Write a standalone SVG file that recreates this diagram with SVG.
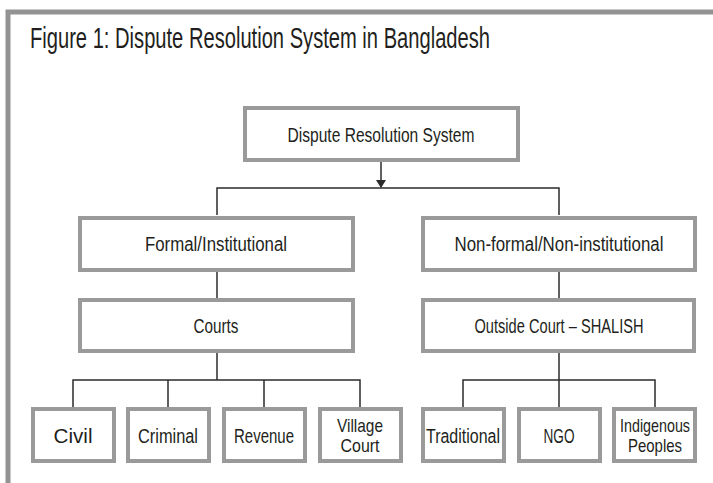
<svg xmlns="http://www.w3.org/2000/svg" width="713" height="483" viewBox="0 0 713 483">
<style>
.frame{fill:none;stroke:#939393;stroke-width:5}
.box{fill:#fff;stroke:#9a9a9a;stroke-width:4}
.t{font-family:"Liberation Sans",Arial,sans-serif;font-size:20px;fill:#231f20;text-anchor:middle}
.s{font-size:19px}
.title{font-family:"Liberation Sans",Arial,sans-serif;font-size:29px;fill:#231f20}
.c{fill:none;stroke:#2b2b2b;stroke-width:1.5}
</style>
<defs>
<marker id="arr" markerWidth="8" markerHeight="10" refX="7" refY="5" orient="auto" markerUnits="userSpaceOnUse">
<path d="M0,0 L8,5 L0,10 Z" fill="#2b2b2b"/>
</marker>
</defs>
<rect width="713" height="483" fill="#fff"/>
<path class="frame" d="M8,483 L8,12 L713,12"/>
<text class="title" x="30" y="48" textLength="460" lengthAdjust="spacingAndGlyphs">Figure 1: Dispute Resolution System in Bangladesh</text>
<g id="connectors">
<path class="c" d="M381,162 L381,187" marker-end="url(#arr)"/>
<path class="c" d="M217,215 L217,188 L559,188 L559,215"/>
<path class="c" d="M217,272 L217,298"/>
<path class="c" d="M559,272 L559,298"/>
<path class="c" d="M217,353 L217,380"/>
<path class="c" d="M73,407 L73,380 L360,380 L360,407 M168,380 L168,407 M264,380 L264,407"/>
<path class="c" d="M559,353 L559,407"/>
<path class="c" d="M463,407 L463,380 L655,380 L655,407"/>
</g>
<g id="root"><rect class="box" x="245" y="108" width="273" height="52"/><text class="t" x="381" y="142" textLength="187" lengthAdjust="spacingAndGlyphs">Dispute Resolution System</text></g>
<g id="formal"><rect class="box" x="80" y="218" width="273" height="52"/><text class="t" x="216" y="251" textLength="142" lengthAdjust="spacingAndGlyphs">Formal/Institutional</text></g>
<g id="nonformal"><rect class="box" x="423" y="218" width="272" height="52"/><text class="t" x="559" y="251" textLength="209" lengthAdjust="spacingAndGlyphs">Non-formal/Non-institutional</text></g>
<g id="courts"><rect class="box" x="80" y="300" width="273" height="51"/><text class="t" x="216" y="333" textLength="45" lengthAdjust="spacingAndGlyphs">Courts</text></g>
<g id="outside"><rect class="box" x="423" y="300" width="271" height="51"/><text class="t" x="559" y="333" textLength="169" lengthAdjust="spacingAndGlyphs">Outside Court – SHALISH</text></g>
<g id="civil"><rect class="box" x="33" y="409" width="81" height="52"/><text class="t" x="73" y="443" textLength="39" lengthAdjust="spacingAndGlyphs">Civil</text></g>
<g id="criminal"><rect class="box" x="128" y="409" width="81" height="52"/><text class="t" x="168" y="443" textLength="60" lengthAdjust="spacingAndGlyphs">Criminal</text></g>
<g id="revenue"><rect class="box" x="224" y="409" width="81" height="52"/><text class="t" x="264" y="443" textLength="60" lengthAdjust="spacingAndGlyphs">Revenue</text></g>
<g id="village"><rect class="box" x="320" y="409" width="81" height="52"/><text class="t s" x="360" y="432" textLength="46" lengthAdjust="spacingAndGlyphs">Village</text><text class="t s" x="360" y="452" textLength="39" lengthAdjust="spacingAndGlyphs">Court</text></g>
<g id="traditional"><rect class="box" x="423" y="409" width="81" height="52"/><text class="t" x="463" y="443" textLength="74" lengthAdjust="spacingAndGlyphs">Traditional</text></g>
<g id="ngo"><rect class="box" x="519" y="409" width="81" height="52"/><text class="t" x="559" y="443" textLength="31" lengthAdjust="spacingAndGlyphs">NGO</text></g>
<g id="indigenous"><rect class="box" x="614" y="409" width="81" height="52"/><text class="t s" x="655" y="432" textLength="70" lengthAdjust="spacingAndGlyphs">Indigenous</text><text class="t s" x="655" y="452" textLength="54" lengthAdjust="spacingAndGlyphs">Peoples</text></g>
</svg>
